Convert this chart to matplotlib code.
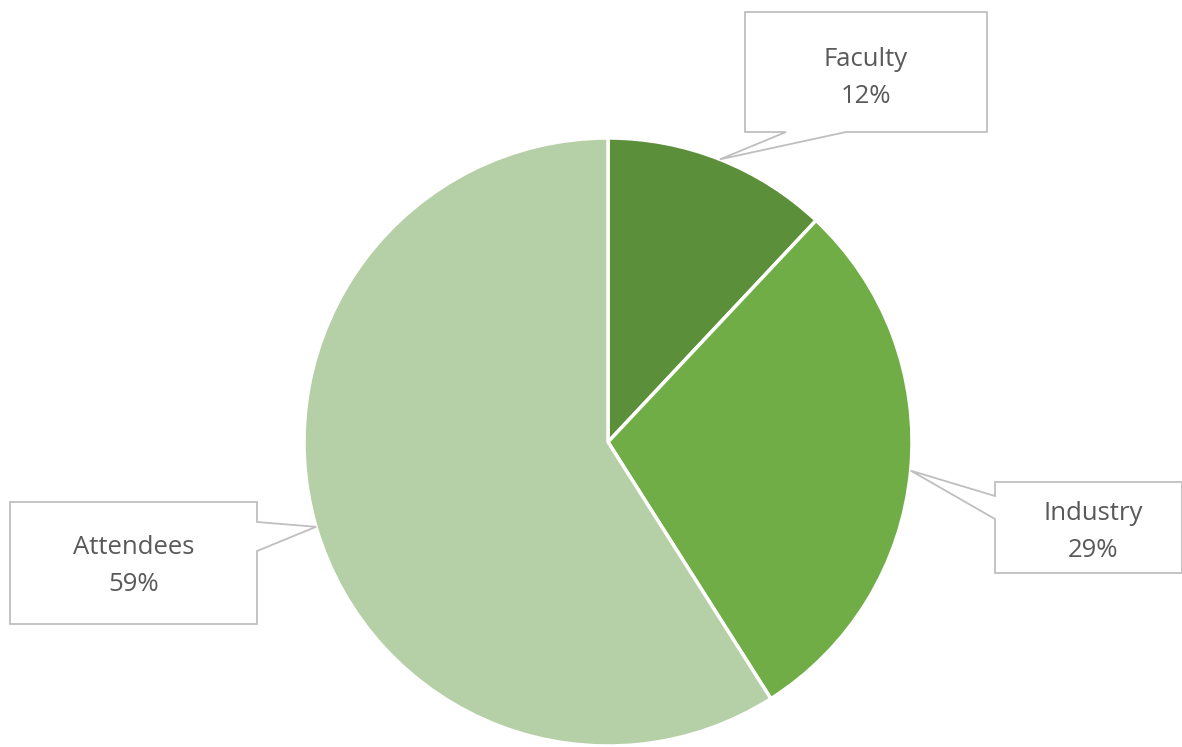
import numpy as np
import matplotlib.pyplot as plt
from matplotlib.patches import Polygon

# -----------------------------
# Data
# -----------------------------
labels = ["Faculty", "Industry", "Attendees"]
shares = [12, 29, 59]
colors = ["#5B8F3A", "#70AD47", "#B5CFA7"]

# callout boxes in pixel space (left, top, right, bottom) and where the pointer leaves the box
boxes = {
    "Faculty": (745, 12, 987, 132),
    "Industry": (995, 482, 1182, 573),
    "Attendees": (10, 502, 257, 624),
}
pointer_side = {"Faculty": "bottom", "Industry": "left", "Attendees": "right"}
pointer_base = {"Faculty": (786, 846), "Industry": (496, 519), "Attendees": (522, 551)}
text_center = {"Faculty": (866, 78), "Industry": (1093, 532), "Attendees": (134, 566)}

W, H = 1182, 747
cx, cy, r = 608, 442, 304

fig = plt.figure(figsize=(W / 100, H / 100), dpi=100)
ax = fig.add_axes([0, 0, 1, 1])

wedges, _ = ax.pie(
    shares,
    colors=colors,
    startangle=90,
    counterclock=False,
    center=(cx, H - cy),
    radius=r,
    wedgeprops=dict(edgecolor="white", linewidth=2.5),
)

ax.set_xlim(0, W)
ax.set_ylim(0, H)
ax.set_aspect("equal")
ax.axis("off")

# -----------------------------
# Callouts
# -----------------------------
for w, lab, val in zip(wedges, labels, shares):
    mid = np.deg2rad((w.theta1 + w.theta2) / 2)
    tip = (cx + r * np.cos(mid), (H - cy) + r * np.sin(mid))

    L, T, R, B = boxes[lab]
    T, B = H - T, H - B
    b0, b1 = pointer_base[lab]
    side = pointer_side[lab]
    if side == "bottom":
        pts = [(L, T), (R, T), (R, B), (b1, B), tip, (b0, B), (L, B)]
    elif side == "left":
        pts = [(L, T), (R, T), (R, B), (L, B), (L, H - b1), tip, (L, H - b0)]
    else:
        pts = [(L, T), (R, T), (R, H - b0), tip, (R, H - b1), (R, B), (L, B)]

    ax.add_patch(Polygon(pts, closed=True, facecolor="white",
                         edgecolor="#BFBFBF", linewidth=1.3, zorder=3))

    tx, ty = text_center[lab]
    ax.text(tx, H - ty, f"{lab}\n{val}%", ha="center", va="center",
            fontsize=18.5, color="#595959", family="Open Sans",
            linespacing=1.6, zorder=4)

plt.savefig("out.png", dpi=100)
plt.close()
